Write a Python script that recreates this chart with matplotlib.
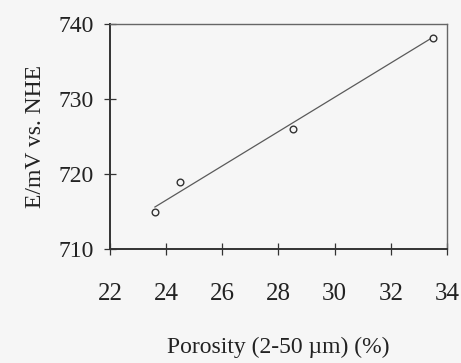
import matplotlib
matplotlib.use('Agg')
import matplotlib.pyplot as plt

porosity = [23.6, 24.5, 28.5, 33.5]
potential = [715.0, 719.0, 726.0, 738.1]

# ends of the fitted line
fit_x = [23.6, 33.4]
fit_y = [715.6, 738.0]

xticks = [22, 24, 26, 28, 30, 32, 34]
yticks = [710, 720, 730, 740]

plt.rcParams['font.family'] = ['Liberation Serif', 'DejaVu Serif']

fig = plt.figure(figsize=(4.61, 3.63), dpi=100)
fig.patch.set_facecolor('#f6f6f6')
ax = fig.add_axes([0.2386, 0.314, 0.731, 0.620])
ax.set_facecolor('#f6f6f6')

ax.plot(fit_x, fit_y, color='#5a5a5a', lw=0.9)
ax.plot(porosity, potential, 'o', ms=4.8, mfc='none', mec='#333333', mew=1.0)

ax.set_xlim(22, 34)
ax.set_ylim(710, 740)
ax.set_xticks(xticks)
ax.set_yticks(yticks)
ax.tick_params(direction='inout', length=9, width=0.9, colors='#333333',
               labelsize=17, labelcolor='#222222')
ax.tick_params(axis='x', pad=20, labelsize=18)
ax.tick_params(axis='y', pad=7)

for s in ['left', 'bottom']:
    ax.spines[s].set_linewidth(1.4)
    ax.spines[s].set_color('#333333')
for s in ['top', 'right']:
    ax.spines[s].set_linewidth(1.0)
    ax.spines[s].set_color('#666666')

ax.set_xlabel('Porosity (2-50 \u00b5m) (%)', fontsize=17, color='#222222', labelpad=23)
ax.set_ylabel('E/mV vs. NHE', fontsize=17, color='#222222', labelpad=9)

fig.savefig('out.png', dpi=100, facecolor=fig.get_facecolor())
